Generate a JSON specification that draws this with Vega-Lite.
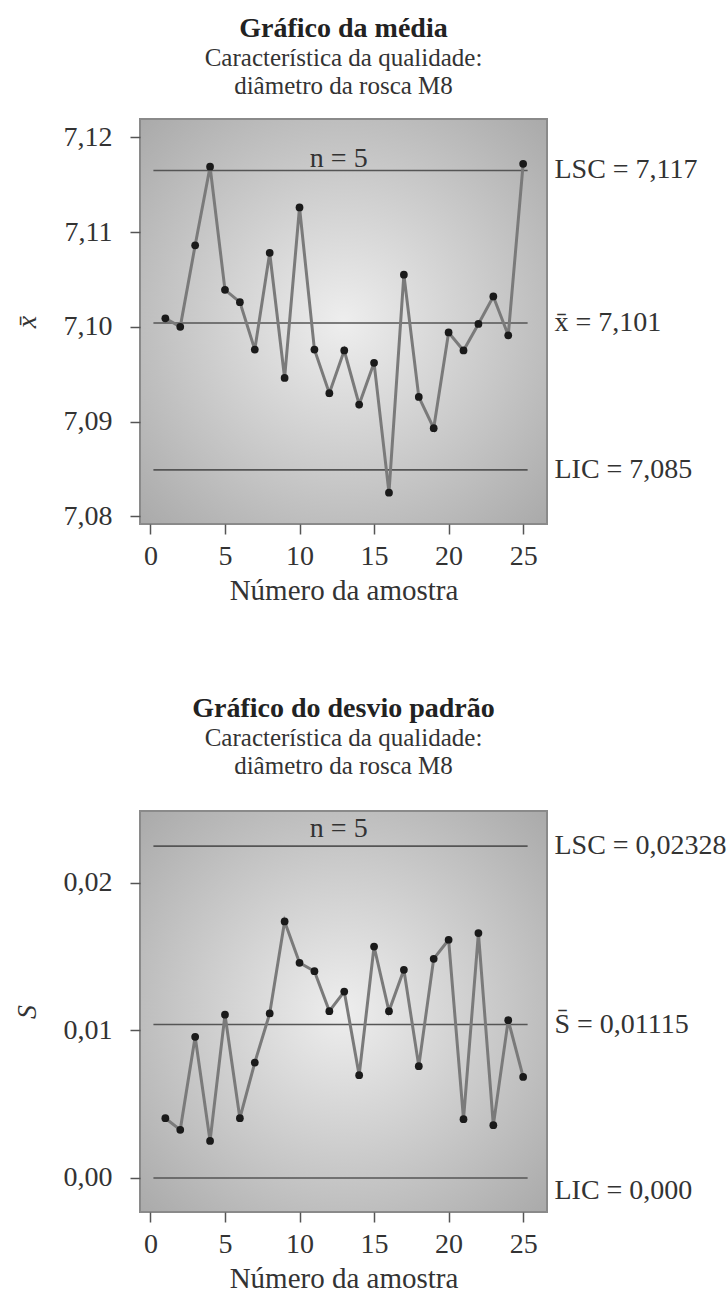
{
  "$schema": "https://vega.github.io/schema/vega-lite/v6.json",
  "background": "white",
  "padding": {"left": 12, "top": 14, "right": 0, "bottom": 0},
  "spacing": 88,
  "config": {
    "font": "Liberation Serif",
    "view": {"stroke": null},
    "axis": {
      "labelFont": "Liberation Serif",
      "titleFont": "Liberation Serif",
      "labelFontSize": 28,
      "titleFontSize": 29,
      "labelColor": "#333333",
      "titleColor": "#333333",
      "titleFontWeight": "normal",
      "domain": false,
      "grid": false,
      "tickColor": "#555555",
      "tickSize": 10,
      "tickWidth": 1.5
    },
    "title": {
      "font": "Liberation Serif",
      "fontSize": 28,
      "fontWeight": "bold",
      "color": "#222222",
      "subtitleFont": "Liberation Serif",
      "subtitleFontSize": 25,
      "subtitleColor": "#333333",
      "subtitlePadding": 3,
      "subtitleLineHeight": 28,
      "anchor": "middle",
      "frame": "group",
      "offset": 20
    }
  },
  "datasets": {
    "xbar": [
      {"amostra": 1, "media": 7.1009},
      {"amostra": 2, "media": 7.1000},
      {"amostra": 3, "media": 7.1086},
      {"amostra": 4, "media": 7.1169},
      {"amostra": 5, "media": 7.1039},
      {"amostra": 6, "media": 7.1026},
      {"amostra": 7, "media": 7.0976},
      {"amostra": 8, "media": 7.1078},
      {"amostra": 9, "media": 7.0946},
      {"amostra": 10, "media": 7.1126},
      {"amostra": 11, "media": 7.0976},
      {"amostra": 12, "media": 7.0930},
      {"amostra": 13, "media": 7.0975},
      {"amostra": 14, "media": 7.0918},
      {"amostra": 15, "media": 7.0962},
      {"amostra": 16, "media": 7.0825},
      {"amostra": 17, "media": 7.1055},
      {"amostra": 18, "media": 7.0926},
      {"amostra": 19, "media": 7.0893},
      {"amostra": 20, "media": 7.0994},
      {"amostra": 21, "media": 7.0975},
      {"amostra": 22, "media": 7.1003},
      {"amostra": 23, "media": 7.1032},
      {"amostra": 24, "media": 7.0991},
      {"amostra": 25, "media": 7.1172}
    ],
    "desvio": [
      {"amostra": 1, "s": 0.00405},
      {"amostra": 2, "s": 0.00326},
      {"amostra": 3, "s": 0.00957},
      {"amostra": 4, "s": 0.00251},
      {"amostra": 5, "s": 0.01107},
      {"amostra": 6, "s": 0.00405},
      {"amostra": 7, "s": 0.00782},
      {"amostra": 8, "s": 0.01115},
      {"amostra": 9, "s": 0.01739},
      {"amostra": 10, "s": 0.01459},
      {"amostra": 11, "s": 0.01402},
      {"amostra": 12, "s": 0.01131},
      {"amostra": 13, "s": 0.01264},
      {"amostra": 14, "s": 0.00697},
      {"amostra": 15, "s": 0.01569},
      {"amostra": 16, "s": 0.01131},
      {"amostra": 17, "s": 0.01411},
      {"amostra": 18, "s": 0.00758},
      {"amostra": 19, "s": 0.01486},
      {"amostra": 20, "s": 0.01615},
      {"amostra": 21, "s": 0.00398},
      {"amostra": 22, "s": 0.01660},
      {"amostra": 23, "s": 0.00358},
      {"amostra": 24, "s": 0.01070},
      {"amostra": 25, "s": 0.00685}
    ],
    "lim_x": [
      {"rotulo": "LSC = 7,117", "valor": 7.1165},
      {"rotulo": "x̄ = 7,101", "valor": 7.1004},
      {"rotulo": "LIC = 7,085", "valor": 7.0849}
    ],
    "lim_s": [
      {"rotulo": "LSC = 0,02328", "valor": 0.0225},
      {"rotulo": "S̄ = 0,01115", "valor": 0.0104},
      {"rotulo": "LIC = 0,000", "valor": 0.0}
    ],
    "nota": [{"texto": "n = 5"}]
  },
  "vconcat": [
    {
      "width": 407,
      "height": 405,
      "view": {
        "stroke": "#8a8a8a",
        "strokeWidth": 2,
        "fill": {
          "gradient": "radial",
          "x1": 0.5, "y1": 0.5, "r1": 0,
          "x2": 0.5, "y2": 0.5, "r2": 0.72,
          "stops": [
            {"offset": 0, "color": "#eeeeee"},
            {"offset": 1, "color": "#a8a8a8"}
          ]
        }
      },
      "title": {
        "text": "Gráfico da média",
        "subtitle": ["Característica da qualidade:", "diâmetro da rosca M8"]
      },
      "layer": [
        {
          "data": {"name": "lim_x"},
          "mark": {"type": "rule", "color": "#555555", "strokeWidth": 1.6},
          "encoding": {
            "x": {"datum": 0.2, "type": "quantitative", "scale": {"domain": [-0.7, 26.6], "nice": false, "zero": false},
              "axis": {"values": [0, 5, 10, 15, 20, 25], "title": "Número da amostra", "labelPadding": 8, "titlePadding": 6}},
            "x2": {"datum": 25.3},
            "y": {"field": "valor", "type": "quantitative", "scale": {"domain": [7.07919, 7.12193], "nice": false, "zero": false},
              "axis": {"values": [7.08, 7.09, 7.1, 7.11, 7.12], "labelExpr": "replace(format(datum.value, '.2f'), '.', ',')", "title": "x̄", "titleFontSize": 28, "titleFontStyle": "italic", "labelPadding": 18, "titlePadding": 22}}
          }
        },
        {
          "data": {"name": "xbar"},
          "mark": {"type": "line", "color": "#7a7a7a", "strokeWidth": 3},
          "encoding": {
            "x": {"field": "amostra", "type": "quantitative"},
            "y": {"field": "media", "type": "quantitative"}
          }
        },
        {
          "data": {"name": "xbar"},
          "mark": {"type": "point", "filled": true, "color": "#1a1a1a", "size": 60, "opacity": 1},
          "encoding": {
            "x": {"field": "amostra", "type": "quantitative"},
            "y": {"field": "media", "type": "quantitative"}
          }
        },
        {
          "data": {"name": "lim_x"},
          "mark": {"type": "text", "align": "left", "baseline": "middle", "fontSize": 28, "color": "#333333", "font": "Liberation Serif"},
          "encoding": {
            "x": {"datum": 27.1},
            "y": {"field": "valor", "type": "quantitative"},
            "text": {"field": "rotulo"}
          }
        },
        {
          "data": {"name": "nota"},
          "mark": {"type": "text", "align": "center", "baseline": "middle", "fontSize": 28, "color": "#333333", "font": "Liberation Serif"},
          "encoding": {
            "x": {"datum": 12.63},
            "y": {"datum": 7.1177},
            "text": {"field": "texto"}
          }
        }
      ]
    },
    {
      "width": 407,
      "height": 401,
      "view": {
        "stroke": "#8a8a8a",
        "strokeWidth": 2,
        "fill": {
          "gradient": "radial",
          "x1": 0.5, "y1": 0.5, "r1": 0,
          "x2": 0.5, "y2": 0.5, "r2": 0.72,
          "stops": [
            {"offset": 0, "color": "#eeeeee"},
            {"offset": 1, "color": "#a8a8a8"}
          ]
        }
      },
      "title": {
        "text": "Gráfico do desvio padrão",
        "subtitle": ["Característica da qualidade:", "diâmetro da rosca M8"],
        "offset": 32
      },
      "layer": [
        {
          "data": {"name": "lim_s"},
          "mark": {"type": "rule", "color": "#555555", "strokeWidth": 1.6},
          "encoding": {
            "x": {"datum": 0.2, "type": "quantitative", "scale": {"domain": [-0.7, 26.6], "nice": false, "zero": false},
              "axis": {"values": [0, 5, 10, 15, 20, 25], "title": "Número da amostra", "labelPadding": 8, "titlePadding": 6}},
            "x2": {"datum": 25.3},
            "y": {"field": "valor", "type": "quantitative", "scale": {"domain": [-0.00231, 0.02488], "nice": false, "zero": false},
              "axis": {"values": [0, 0.01, 0.02], "labelExpr": "replace(format(datum.value, '.2f'), '.', ',')", "title": "S", "titleFontSize": 28, "titleFontStyle": "italic", "labelPadding": 18, "titlePadding": 22}}
          }
        },
        {
          "data": {"name": "desvio"},
          "mark": {"type": "line", "color": "#7a7a7a", "strokeWidth": 3},
          "encoding": {
            "x": {"field": "amostra", "type": "quantitative"},
            "y": {"field": "s", "type": "quantitative"}
          }
        },
        {
          "data": {"name": "desvio"},
          "mark": {"type": "point", "filled": true, "color": "#1a1a1a", "size": 60, "opacity": 1},
          "encoding": {
            "x": {"field": "amostra", "type": "quantitative"},
            "y": {"field": "s", "type": "quantitative"}
          }
        },
        {
          "data": {"name": "lim_s"},
          "transform": [{"filter": "datum.valor > 0"}],
          "mark": {"type": "text", "align": "left", "baseline": "middle", "fontSize": 28, "color": "#333333", "font": "Liberation Serif"},
          "encoding": {
            "x": {"datum": 27.1},
            "y": {"field": "valor", "type": "quantitative"},
            "text": {"field": "rotulo"}
          }
        },
        {
          "data": {"name": "lim_s"},
          "transform": [{"filter": "datum.valor == 0"}],
          "mark": {"type": "text", "align": "left", "baseline": "middle", "fontSize": 28, "color": "#333333", "font": "Liberation Serif", "dy": 13},
          "encoding": {
            "x": {"datum": 27.1},
            "y": {"field": "valor", "type": "quantitative"},
            "text": {"field": "rotulo"}
          }
        },
        {
          "data": {"name": "nota"},
          "mark": {"type": "text", "align": "center", "baseline": "middle", "fontSize": 28, "color": "#333333", "font": "Liberation Serif"},
          "encoding": {
            "x": {"datum": 12.63},
            "y": {"datum": 0.02368},
            "text": {"field": "texto"}
          }
        }
      ]
    }
  ]
}
